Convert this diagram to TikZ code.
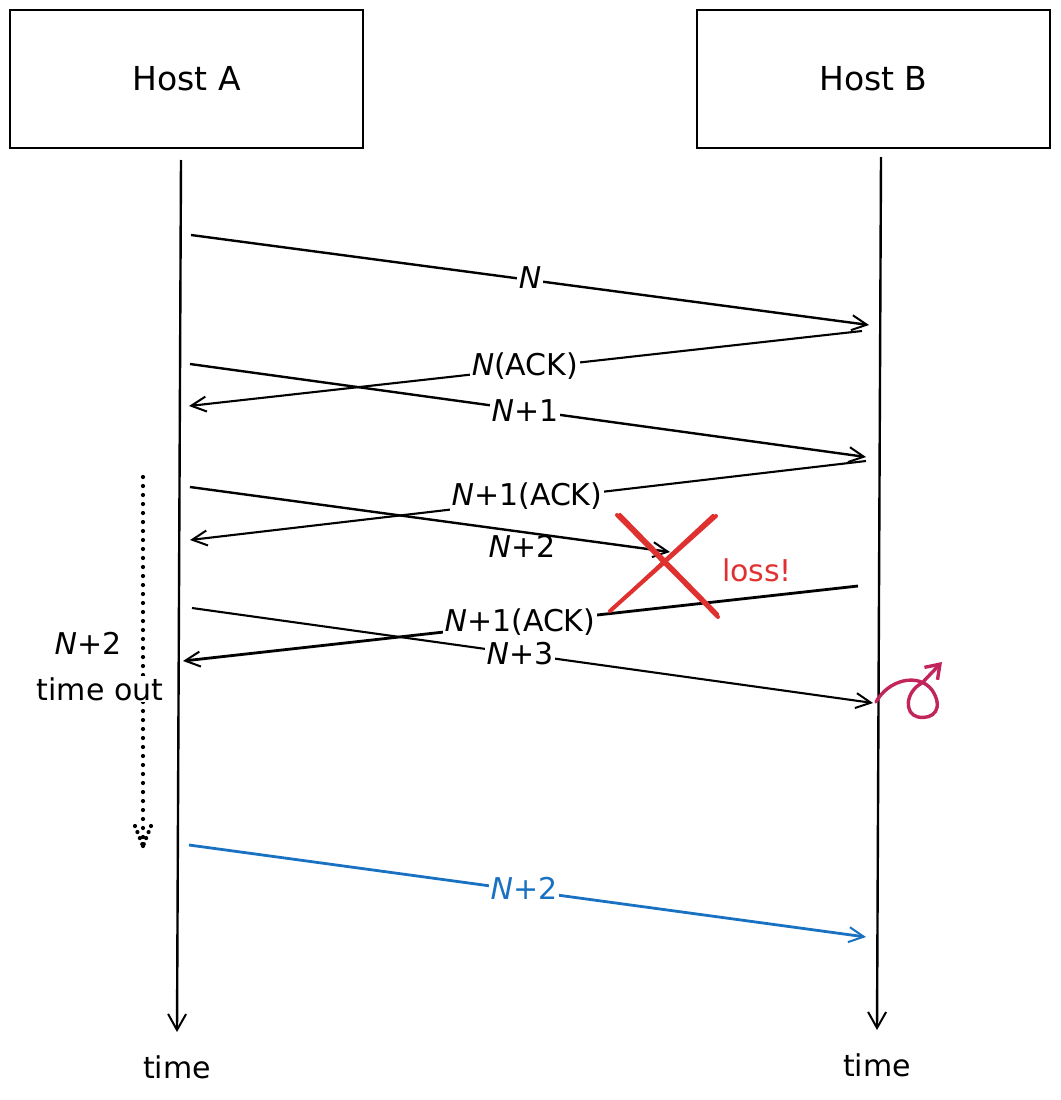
\documentclass[tikz,border=0pt]{standalone}
\usepackage{fontspec}
\setmainfont{DejaVu Sans}
\usetikzlibrary{arrows.meta,calc}
\definecolor{xred}{HTML}{E03131}
\definecolor{xblue}{HTML}{1971C2}
\definecolor{xpink}{HTML}{C2255C}
\tikzset{
  hostbox/.style={draw, line width=1.8pt, minimum width=353pt, minimum height=138pt, font=\fontsize{33}{38}\selectfont},
  life/.style={line width=2.4pt, -{Straight Barb[length=16pt,width=18pt,line width=2pt]}},
  msg/.style={line width=2.1pt, -{Straight Barb[length=15pt,width=15pt,line width=2pt]}},
  lbl/.style={fill=white, inner sep=2pt, font=\fontsize{30}{34}\selectfont},
  plain/.style={inner sep=2pt, font=\fontsize{30}{34}\selectfont},
  redx/.style={xred, line width=4pt, line cap=round},
}
\begin{document}
\begin{tikzpicture}[x=1pt,y=-1pt]
\useasboundingbox (0,0) rectangle (1060,1100);
% hosts
\node[hostbox] (A) at (186.5,79) {Host A};
\node[hostbox] (B) at (873.5,79) {Host B};
% lifelines
\coordinate (a0) at (181,160);
\coordinate (a1) at (177,1032);
\coordinate (b0) at (881,157);
\coordinate (b1) at (877,1030);
\draw[life] (a0) -- (a1);
\draw[life] (b0) -- (b1);
\node[plain] (ta) at (177,1067) {time};
\node[plain] (tb) at (877,1065) {time};
% message endpoints
\coordinate (m1s) at (191,235); \coordinate (m1e) at (869,325);
\coordinate (m2s) at (862,331); \coordinate (m2e) at (189,406);
\coordinate (m3s) at (190,364); \coordinate (m3e) at (866,457);
\coordinate (m4s) at (866,461); \coordinate (m4e) at (190,540);
\coordinate (m5s) at (190,487); \coordinate (m5e) at (670,552);
\coordinate (m6s) at (858,586); \coordinate (m6e) at (183,661);
\coordinate (m7s) at (192,608); \coordinate (m7e) at (873,703);
\coordinate (m8s) at (189,845); \coordinate (m8e) at (866,937);
\draw[msg, line width=2.4pt] (m1s) -- (m1e);
\draw[msg] (m2s) -- (m2e);
\draw[msg, line width=2.4pt] (m3s) -- (m3e);
\draw[msg] (m4s) -- (m4e);
\draw[msg, line width=2.4pt] (m5s) -- (m5e);
\draw[msg, line width=2.8pt] (m6s) -- (m6e);
\draw[msg] (m7s) -- (m7e);
\draw[msg, xblue, line width=2.8pt] (m8s) -- (m8e);
% labels
\node[lbl] (l1) at (530,278) {\textit{N}};
\node[lbl] (l2) at (525,366) {\textit{N}(ACK)};
\node[lbl] (l3) at (525,411) {\textit{N}+1};
\node[lbl] (l4) at (527,496) {\textit{N}+1(ACK)};
\node[lbl, fill=none] (l5) at (522,546) {\textit{N}+2};
\node[lbl] (l6) at (520,622) {\textit{N}+1(ACK)};
\node[lbl] (l7) at (520,654) {\textit{N}+3};
\node[lbl, text=xblue] (l8) at (524,888) {\textit{N}+2};
% loss cross
\coordinate (x1) at (617,515); \coordinate (x2) at (718,617);
\coordinate (x3) at (716,516); \coordinate (x4) at (610,611);
\draw[redx] (x1) -- (x2);
\draw[redx, line width=2.4pt] ($(x1)+(3,-1)$) -- ($(x2)+(0,-3)$);
\draw[redx] (x3) -- (x4);
\draw[redx, line width=2.4pt] ($(x3)+(-3,-1)$) -- ($(x4)+(2,-2)$);
\node[plain, text=xred] (loss) at (757,570) {loss!};
% curl
\coordinate (c0) at (876,702);
\coordinate (c1) at (942,662);
\draw[xpink, line width=3.4pt, line cap=round, -{Straight Barb[length=13pt,width=18pt,line width=3.4pt]}]
  (c0) .. controls (888,680) and (918,672) .. (932,690)
       .. controls (944,708) and (934,720) .. (918,717)
       .. controls (904,714) and (905,692) .. (922,683) -- (c1);
% timeout
\coordinate (t0) at (143,477);
\coordinate (t1) at (143,846);
\draw[line width=4.2pt, line cap=round, dash pattern=on 0pt off 9pt] (t0) -- (t1);
\draw[line width=4.2pt, line cap=round, dash pattern=on 0pt off 6.5pt] (135,826) -- (t1);
\draw[line width=4.2pt, line cap=round, dash pattern=on 0pt off 6.5pt] (151,826) -- (t1);
\node[plain, fill=white, inner sep=1pt] (to1) at (88,643) {\textit{N}+2};
\node[plain, fill=white, inner sep=1pt] (to2) at (100,689) {time out};
\end{tikzpicture}
\end{document}
